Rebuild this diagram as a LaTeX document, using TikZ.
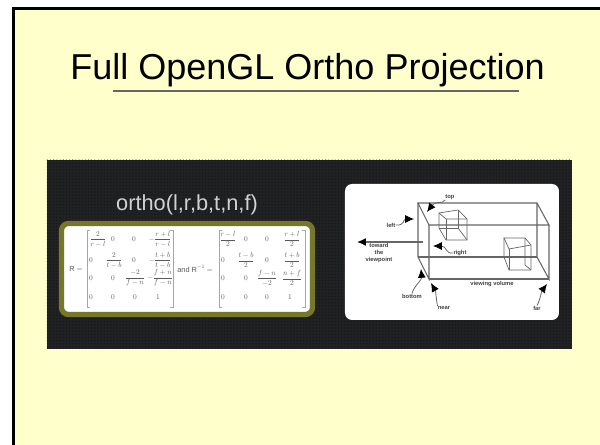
\documentclass[tikz,border=0pt]{standalone}
\usepackage{fontspec}
\setmainfont{Liberation Sans}
\usetikzlibrary{arrows.meta, patterns.meta}
\definecolor{slidebg}{HTML}{FFFFCC}
\definecolor{panelbg}{HTML}{212224}
\definecolor{matrixrim}{HTML}{77772C}
\newcommand{\mt}[1]{\scalebox{.42}{$\displaystyle #1$}}
\tikzset{
    matline/.style={draw=gray!70, line width=.45pt},
    boxline/.style={draw=black!60, line width=.6pt},
    cubeline/.style={draw=black!60, line width=.4pt},
    tag/.style={inner sep=0pt, font=\fontsize{3.3}{3.8}\selectfont\bfseries, text=black!75, align=center},
    pointer/.style={black!60, line width=.45pt, -{Latex[length=5pt,width=4.5pt,black]}},
    cell/.style={inner sep=0pt, text=black!65},
}
\begin{document}
\begin{tikzpicture}[x=.02cm, y=-.02cm]
    \useasboundingbox (0, 0) rectangle (600, 445);
    \fill[white] (0, 0) rectangle (600, 445);
    \draw[fill=slidebg, line width=1.5pt] (13.3, 8.7) rectangle (620, 460);
    % title
    \node (title) at (307.5, 70) [inner sep=0pt, font=\fontsize{20.5}{24}\selectfont] {Full OpenGL Ortho Projection};
    \draw[black!60, line width=.7pt] (113, 91) -- (519, 91);
    % dark panel
    \fill[panelbg] (47, 160) rectangle (572, 349);
    \fill[pattern={Dots[distance=1.8pt, radius=.5pt]}, pattern color=black!90] (47, 160) rectangle (572, 349);
    \node (ortho) at (187, 205) [inner sep=0pt, text=white!82!black, font=\fontsize{12.4}{14}\selectfont] {ortho(l,r,b,t,n,f)};
    % matrices
    \draw[fill=white, draw=matrixrim, line width=3pt, rounded corners=4pt] (61.5, 223.5) rectangle (312.5, 314.5);
    \node (R) at (76, 269) [cell] {\mt{\mathrm{R}=}};
    \node (and) at (195, 269) [cell] {\mt{\mathrm{and\ R}^{-1}=}};
    \foreach \a/\b in {87/173, 219/305} {
        \draw[matline] (\a+3, 230) -- (\a, 230) -- (\a, 307) -- (\a+3, 307);
        \draw[matline] (\b-3, 230) -- (\b, 230) -- (\b, 307) -- (\b-3, 307);
    }
    \foreach \x/\y/\t in {
        98/239/\frac{2}{r-l}, 113/239/0, 134/239/0, 160/239/-\frac{r+l}{r-l},
        91/260/0, 114/260/\frac{2}{t-b}, 134/260/0, 160/260/-\frac{t+b}{t-b},
        91/278/0, 113/278/0, 135/278/\frac{-2}{f-n}, 160/278/-\frac{f+n}{f-n},
        91/297/0, 113/297/0, 135/297/0, 158/297/1,
        228/239/\frac{r-l}{2}, 246/239/0, 267/239/0, 292/239/\frac{r+l}{2},
        223/260/0, 246/260/\frac{t-b}{2}, 267/260/0, 292/260/\frac{t+b}{2},
        223/278/0, 246/278/0, 267/278/\frac{f-n}{-2}, 292/278/\frac{n+f}{2},
        223/297/0, 246/297/0, 267/297/0, 290/297/1} {
        \node at (\x, \y) [cell] {\mt{\t}};
    }
    % view volume card
    \fill[white, rounded corners=4pt] (345, 184) rectangle (559, 320);
    \draw[boxline] (418, 203) -- (537, 203) -- (549, 225) -- (429, 225) -- cycle;
    \draw[boxline] (418, 203) -- (418, 257) -- (429, 279) -- (429, 225);
    \draw[boxline] (418, 257) -- (537, 257);
    \draw[boxline] (537, 203) -- (537, 257) -- (549, 279) -- (549, 225);
    \draw[boxline] (429, 279) -- (549, 279);
    % near cube
    \draw[cubeline] (439, 213) -- (458, 210) -- (467, 219) -- (467, 240) -- (446, 240) -- (439, 228) -- cycle;
    \draw[cubeline] (439, 213) -- (446, 219) -- (467, 219);
    \draw[cubeline] (446, 219) -- (446, 240);
    \draw[cubeline] (439, 228) -- (458, 228) -- (458, 210);
    \draw[cubeline] (458, 228) -- (467, 240);
    % far cube
    \draw[cubeline] (504, 238) -- (525, 238) -- (531, 245) -- (531, 270) -- (509, 270) -- (504, 257) -- cycle;
    \draw[cubeline] (504, 238) -- (509, 249) -- (531, 245);
    \draw[cubeline] (509, 249) -- (509, 270);
    \draw[cubeline] (504, 257) -- (525, 257);
    \draw[cubeline] (525, 238) -- (525, 265) -- (531, 270);
    % labels
    \node (top) at (450, 197) [tag] {top};
    \node (left) at (391, 225) [tag] {left};
    \node (right) at (460, 253) [tag] {right};
    \node (toward) at (379, 253) [tag] {toward\\the\\viewpoint};
    \node (bottom) at (412, 296) [tag] {bottom};
    \node (near) at (444, 308) [tag] {near};
    \node (far) at (537, 308) [tag] {far};
    \node (volume) at (492, 284) [tag] {viewing volume};
    \coordinate (topend) at (427, 212);
    \coordinate (leftend) at (414, 219);
    \coordinate (rightend) at (433, 246);
    \coordinate (viewend) at (357, 242);
    \coordinate (viewstart) at (423, 242);
    \coordinate (bottomend) at (421, 269);
    \coordinate (nearend) at (431, 283);
    \coordinate (farend) at (547, 284);
    \draw[pointer] (top.south west) .. controls (442, 205) and (436, 200) .. (topend);
    \draw[pointer] (left.east) .. controls (405, 226) and (403, 219) .. (leftend);
    \draw[pointer] (right.west) .. controls (445, 254) and (447, 246) .. (rightend);
    \draw[pointer, line width=.8pt] (viewstart) -- (viewend);
    \draw[pointer] (bottom.north) .. controls (414, 286) and (422, 280) .. (bottomend);
    \draw[pointer] (near.north west) .. controls (436, 298) and (436, 292) .. (nearend);
    \draw[pointer] (far.north) .. controls (541, 298) and (541, 292) .. (farend);
\end{tikzpicture}
\end{document}
